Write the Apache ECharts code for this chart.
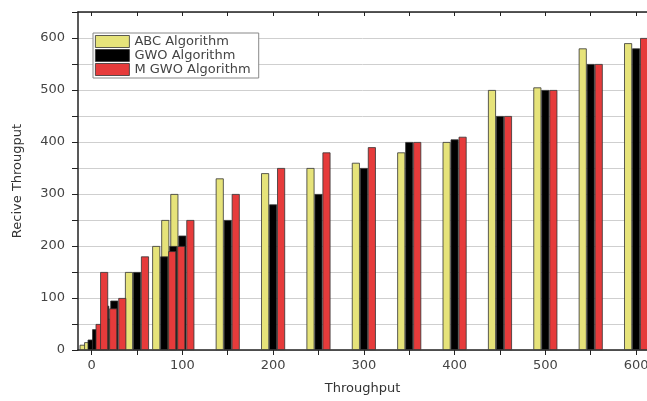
<!DOCTYPE html>
<html>
<head>
<meta charset="utf-8">
<script src="https://cdn.jsdelivr.net/npm/echarts@6/dist/echarts.min.js"></script>
<style>
html,body{margin:0;padding:0;background:#fff;}
#c{width:647px;height:401px;}
</style>
</head>
<body>
<div id="c"></div>
<script>
// Data
const xPositions = [0, 5, 15, 25, 50, 80, 90, 100, 150, 200, 250, 300, 350, 400, 450, 500, 550, 600];
const abcValues  = [10, 15, 20, 60, 150, 200, 250, 300, 330, 340, 350, 360, 380, 400, 500, 505, 580, 590];
const gwoValues  = [20, 40, 85, 95, 150, 180, 200, 220, 250, 280, 300, 350, 400, 405, 450, 500, 550, 580];
const mgwoValues = [50, 150, 80, 100, 180, 190, 200, 250, 300, 350, 380, 390, 400, 410, 450, 500, 550, 600];
const seriesNames = ['ABC Algorithm', 'GWO Algorithm', 'M GWO Algorithm'];
const xTickValues = [0, 50, 100, 150, 200, 250, 300, 350, 400, 450, 500, 550, 600];
const xLabelValues = [0, 100, 200, 300, 400, 500, 600];

const FONT = 'DejaVu Sans';
const colors = ['#e6e37a', '#000000', '#e63b3b'];

function pairs(vals) { return xPositions.map((x, i) => [x, vals[i]]); }

const chart = echarts.init(document.getElementById('c'), null, {renderer: 'canvas'});
chart.setOption({
  animation: false,
  backgroundColor: '#ffffff',
  textStyle: {fontFamily: FONT},
  grid: {left: 78, right: 0, top: 12, bottom: 51, containLabel: false, outerBoundsMode: 'none'},
  legend: {
    orient: 'vertical',
    left: 93, top: 33,
    itemWidth: 34, itemHeight: 12, itemGap: 1,
    padding: [2, 8, 2, 2],
    borderColor: '#888', borderWidth: 1,
    backgroundColor: '#fff',
    icon: 'rect',
    itemStyle: {borderColor: '#333', borderWidth: 0.8},
    textStyle: {fontFamily: FONT, fontSize: 13, lineHeight: 13, color: '#444', padding: [0, 0, 0, 0]},
    data: seriesNames
  },
  xAxis: [{
    type: 'value', min: -15, max: 612, position: 'bottom',
    name: 'Throughput', nameLocation: 'middle', nameGap: 32,
    nameTextStyle: {fontFamily: FONT, fontSize: 13, color: '#333'},
    axisLine: {show: true, onZero: false, lineStyle: {color: '#222', width: 1.5}},
    axisTick: {show: true, customValues: xTickValues, length: 5, lineStyle: {color: '#222'}},
    axisLabel: {customValues: xLabelValues, fontFamily: FONT, fontSize: 13, color: '#444', margin: 9},
    splitLine: {show: false}
  }, {
    type: 'value', min: -15, max: 612, position: 'top',
    axisLine: {show: true, onZero: false, lineStyle: {color: '#222', width: 1.5}},
    axisTick: {show: true, inside: true, customValues: xTickValues, length: 4, lineStyle: {color: '#222'}},
    axisLabel: {show: false},
    splitLine: {show: false}
  }],
  yAxis: {
    type: 'value', min: 0, max: 650, interval: 50,
    name: 'Recive Througput', nameLocation: 'middle', nameGap: 54, nameRotate: 90,
    nameTextStyle: {fontFamily: FONT, fontSize: 13, color: '#333'},
    axisLine: {show: true, onZero: false, lineStyle: {color: '#222', width: 1.5}},
    axisTick: {show: true, length: 6, lineStyle: {color: '#222'}},
    axisLabel: {fontFamily: FONT, fontSize: 13, color: '#444', margin: 13,
      formatter: v => (v % 100 === 0 ? String(v) : '')},
    splitLine: {show: true, lineStyle: {color: '#cfcfcf', width: 1}}
  },
  series: [abcValues, gwoValues, mgwoValues].map((vals, i) => ({
    name: seriesNames[i],
    type: 'bar',
    xAxisIndex: 0,
    barWidth: 8,
    barGap: '0%',
    itemStyle: {color: colors[i], borderColor: '#333', borderWidth: 0.8},
    data: pairs(vals)
  }))
});
</script>
</body>
</html>
